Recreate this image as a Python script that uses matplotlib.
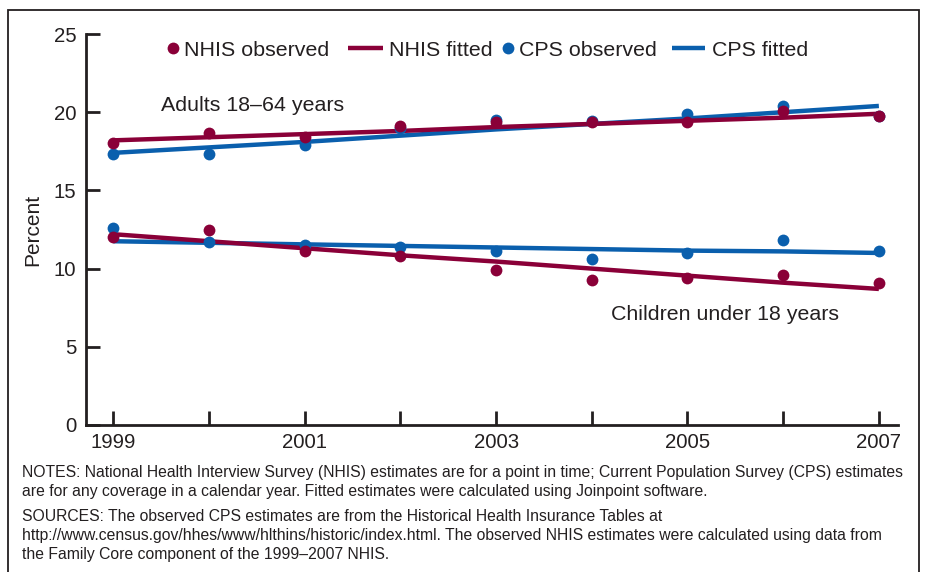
import matplotlib
matplotlib.use("Agg")
import matplotlib.pyplot as plt
from matplotlib.patches import Rectangle

plt.rcParams['font.family'] = ['Liberation Sans', 'DejaVu Sans']

years = [1999, 2000, 2001, 2002, 2003, 2004, 2005, 2006, 2007]

# Adults 18-64
nhis_adult_obs = [18.0, 18.7, 18.4, 19.1, 19.4, 19.4, 19.35, 20.1, 19.75]
nhis_adult_fit = [18.2, 18.4, 18.6, 18.8, 19.05, 19.25, 19.45, 19.65, 19.9]
cps_adult_obs = [17.3, 17.3, 17.9, 19.0, 19.5, 19.45, 19.9, 20.4, 19.75]
cps_adult_fit = [17.4, 17.75, 18.1, 18.5, 18.9, 19.25, 19.6, 20.0, 20.4]

# Children under 18
nhis_child_obs = [12.0, 12.5, 11.1, 10.8, 9.9, 9.3, 9.4, 9.6, 9.1]
nhis_child_fit = [12.2, 11.75, 11.3, 10.85, 10.45, 10.0, 9.55, 9.1, 8.7]
cps_child_obs = [12.6, 11.7, 11.5, 11.4, 11.15, 10.6, 11.0, 11.8, 11.1]
cps_child_fit = [11.75, 11.65, 11.55, 11.45, 11.35, 11.25, 11.15, 11.1, 11.0]

xticks = [1999, 2000, 2001, 2002, 2003, 2004, 2005, 2006, 2007]
xticklabels = ["1999", "", "2001", "", "2003", "", "2005", "", "2007"]
yticks = [0, 5, 10, 15, 20, 25]
legend_labels = ["NHIS observed", "NHIS fitted", "CPS observed", "CPS fitted"]

MAROON = "#8a0038"
BLUE = "#0a5fad"
TXT = "#231f20"
FS = 15.4

W, H = 925, 572
fig = plt.figure(figsize=(9.25, 5.72), dpi=100)
ax = fig.add_axes([86/W, 1-425/H, (898-86)/W, (425-34)/H])

# fitted lines
ax.plot(years, cps_adult_fit, color=BLUE, lw=3.2, solid_capstyle='butt', zorder=2)
ax.plot(years, nhis_adult_fit, color=MAROON, lw=3.2, solid_capstyle='butt', zorder=2)
ax.plot(years, cps_child_fit, color=BLUE, lw=3.2, solid_capstyle='butt', zorder=2)
ax.plot(years, nhis_child_fit, color=MAROON, lw=3.2, solid_capstyle='butt', zorder=2)
# observed points
ax.plot(years, cps_adult_obs, 'o', color=BLUE, ms=8.5, mec='none', zorder=3)
ax.plot(years, cps_child_obs, 'o', color=BLUE, ms=8.5, mec='none', zorder=3)
ax.plot(years, nhis_adult_obs, 'o', color=MAROON, ms=8.5, mec='none', zorder=4)
ax.plot(years, nhis_child_obs, 'o', color=MAROON, ms=8.5, mec='none', zorder=4)

ax.set_xlim(1998.715, 2007.2)
ax.set_ylim(0, 25)
ax.set_xticks(xticks)
ax.set_xticklabels(xticklabels)
ax.set_yticks(yticks)
for s in ['top', 'right']:
    ax.spines[s].set_visible(False)
for s in ['left', 'bottom']:
    ax.spines[s].set_linewidth(2)
    ax.spines[s].set_color(TXT)
ax.tick_params(axis='both', direction='in', length=10, width=2, color=TXT,
               labelsize=14.7, labelcolor=TXT)
ax.tick_params(axis='x', pad=6)
ax.tick_params(axis='y', pad=7)
ax.set_ylabel("Percent", fontsize=15, color=TXT, labelpad=8)

# manual legend in figure pixel positions
def fx(px):
    return px / W

def fy(py):
    return 1 - py / H

ly = fy(48)
fig.add_artist(plt.Line2D([fx(173)], [ly], marker='o', ls='none', color=MAROON,
                          ms=8.5, mec='none', transform=fig.transFigure))
fig.text(fx(184), ly, legend_labels[0], fontsize=FS, color=TXT, va='center_baseline')
fig.add_artist(plt.Line2D([fx(348), fx(383)], [ly, ly], color=MAROON, lw=3.2,
                          solid_capstyle='butt', transform=fig.transFigure))
fig.text(fx(389), ly, legend_labels[1], fontsize=FS, color=TXT, va='center_baseline')
fig.add_artist(plt.Line2D([fx(508)], [ly], marker='o', ls='none', color=BLUE,
                          ms=8.5, mec='none', transform=fig.transFigure))
fig.text(fx(519), ly, legend_labels[2], fontsize=FS, color=TXT, va='center_baseline')
fig.add_artist(plt.Line2D([fx(672), fx(705)], [ly, ly], color=BLUE, lw=3.2,
                          solid_capstyle='butt', transform=fig.transFigure))
fig.text(fx(712), ly, legend_labels[3], fontsize=FS, color=TXT, va='center_baseline')

ax.text(1999.5, 20.45, "Adults 18\u201364 years", fontsize=FS, color=TXT, va='center')
ax.text(2004.2, 7.05, "Children under 18 years", fontsize=FS, color=TXT, va='center')

# border frame
fig.patches.append(Rectangle((8/W, -0.1), (919-8)/W, 1.1-10/H,
                             transform=fig.transFigure, fill=False,
                             edgecolor=TXT, lw=1.3))

notes = ("NOTES: National Health Interview Survey (NHIS) estimates are for a point in time; "
         "Current Population Survey (CPS) estimates\n"
         "are for any coverage in a calendar year. Fitted estimates were calculated using Joinpoint software.")
sources = ("SOURCES: The observed CPS estimates are from the Historical Health Insurance Tables at\n"
           "http://www.census.gov/hhes/www/hlthins/historic/index.html. The observed NHIS estimates "
           "were calculated using data from\n"
           "the Family Core component of the 1999\u20132007 NHIS.")
fig.text(22/W, 1-465/H, notes, fontsize=11.3, color=TXT, va='top', linespacing=1.34)
fig.text(22/W, 1-509/H, sources, fontsize=11.3, color=TXT, va='top', linespacing=1.34)

fig.savefig("out.png", dpi=100)
